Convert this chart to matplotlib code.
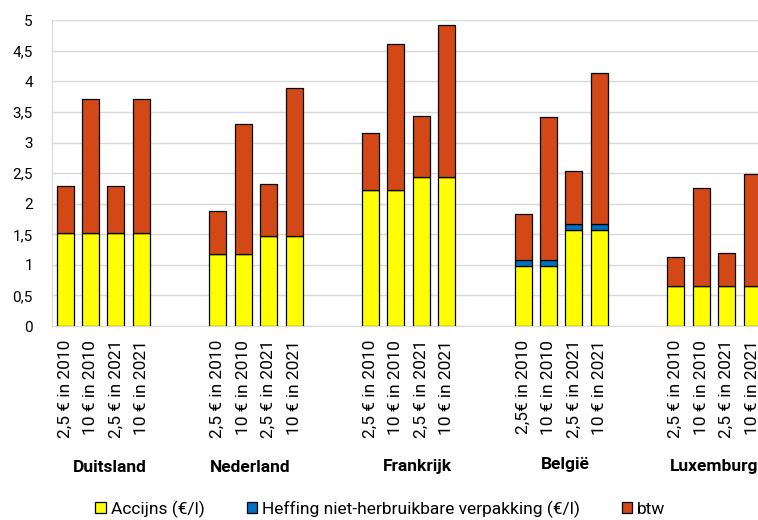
import numpy as np
import matplotlib.pyplot as plt
from matplotlib.transforms import blended_transform_factory

# data
landen = ['Duitsland', 'Nederland', 'Frankrijk', 'België', 'Luxemburg']
labels = [
    ['2,5 € in 2010', '10 € in 2010', '2,5 € in 2021', '10 € in 2021'],
    ['2,5 € in 2010', '10 € in 2010', '2,5 € in 2021', '10 € in 2021'],
    ['2,5 € in 2010', '10 € in 2010', '2,5 € in 2021', '10 € in 2021'],
    ['2,5€ in 2010', '10 € in 2010', '2,5 € in 2021', '10 € in 2021'],
    ['2,5 € in 2010', '10 € in 2010', '2,5 € in 2021', '10 € in 2021'],
]
accijns = [
    [1.52, 1.52, 1.52, 1.52],
    [1.18, 1.18, 1.48, 1.48],
    [2.22, 2.22, 2.43, 2.43],
    [0.98, 0.98, 1.57, 1.57],
    [0.66, 0.66, 0.66, 0.66],
]
heffing = [
    [0, 0, 0, 0],
    [0, 0, 0, 0],
    [0, 0, 0, 0],
    [0.10, 0.10, 0.10, 0.10],
    [0, 0, 0, 0],
]
btw = [
    [0.77, 2.19, 0.77, 2.19],
    [0.70, 2.13, 0.85, 2.42],
    [0.93, 2.40, 1.00, 2.50],
    [0.76, 2.34, 0.87, 2.46],
    [0.47, 1.60, 0.54, 1.82],
]


def main():
    plt.rcParams['font.family'] = ['Roboto', 'DejaVu Sans']

    fig = plt.figure(figsize=(7.58, 5.2), dpi=100)
    ax = fig.add_axes([0.069, 0.373, 0.940, 0.588])

    # 4 staven per land, daarna 2 lege plaatsen
    x = np.array([6 * g + i for g in range(len(landen)) for i in range(4)])
    acc = np.array(accijns).ravel()
    hef = np.array(heffing).ravel()
    bt = np.array(btw).ravel()
    ticklabels = [t for grp in labels for t in grp]

    w = 0.67
    kw = dict(width=w, edgecolor='black', linewidth=0.9, zorder=3)
    ax.bar(x, acc, color='#FFFF00', label='Accijns (€/l)', **kw)
    ax.bar(x, hef, bottom=acc, color='#0070C0',
           label='Heffing niet-herbruikbare verpakking (€/l)', **kw)
    ax.bar(x, bt, bottom=acc + hef, color='#D34817', label='btw', **kw)

    ax.set_xlim(-0.5, 27.5)
    ax.set_ylim(0, 5)
    ax.set_yticks(np.arange(0, 5.01, 0.5))
    ax.set_yticklabels([('%g' % v).replace('.', ',') for v in np.arange(0, 5.01, 0.5)])
    ax.set_xticks(x)
    ax.set_xticklabels(ticklabels, rotation=90, fontsize=12.5)
    ax.tick_params(axis='y', length=0, pad=14, labelsize=11)
    ax.tick_params(axis='x', length=0, pad=10)

    ax.grid(axis='y', color='#d9d9d9', linewidth=1, zorder=0)
    ax.set_axisbelow(True)
    for s in ['top', 'right']:
        ax.spines[s].set_visible(False)
    ax.spines['left'].set_color('#d9d9d9')
    ax.spines['bottom'].set_color('#d9d9d9')

    # landnamen onder de groepen (x in data, y in figuur)
    trans = blended_transform_factory(ax.transData, fig.transFigure)
    posities = [(1.77, 468), (7.27, 468), (13.83, 466), (19.65, 465), (25.5, 467)]
    for naam, (px, py) in zip(landen, posities):
        ax.text(px, 1 - py / 520, naam, transform=trans, ha='center', va='center',
                fontsize=12.5, fontweight='bold', clip_on=False)

    fig.legend(loc='center', bbox_to_anchor=(0.502, 1 - 509 / 520), ncol=3, frameon=False,
               fontsize=12.5, handlelength=0.6, handleheight=0.6, handletextpad=0.3,
               columnspacing=2.4)

    fig.savefig('out.png', dpi=100)


if __name__ == '__main__':
    main()
